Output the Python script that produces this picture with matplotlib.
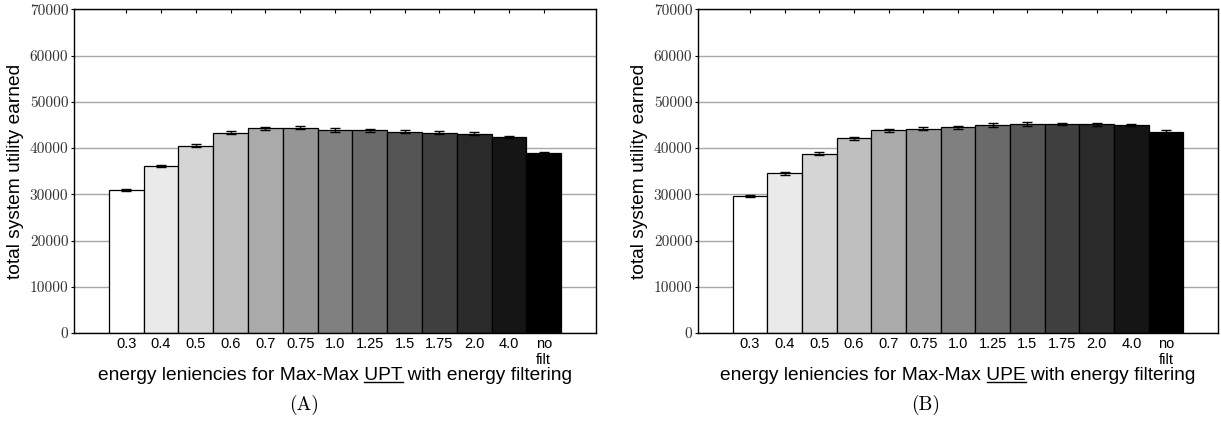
import matplotlib
matplotlib.use("Agg")
import matplotlib.pyplot as plt
from matplotlib.lines import Line2D
from matplotlib.transforms import IdentityTransform
import numpy as np

categories = ["0.3", "0.4", "0.5", "0.6", "0.7", "0.75", "1.0", "1.25", "1.5",
              "1.75", "2.0", "4.0", "no\nfilt"]
upt_values = [30900, 36100, 40500, 43300, 44300, 44400, 43900, 43800, 43500,
              43300, 43100, 42400, 38900]
upt_errors = [250, 300, 300, 350, 350, 350, 350, 300, 300, 300, 300, 250, 250]
upe_values = [29600, 34500, 38800, 42100, 43800, 44200, 44500, 45000, 45200,
              45200, 45100, 45000, 43400]
upe_errors = [250, 300, 350, 300, 300, 350, 350, 350, 350, 300, 300, 300, 450]
yticks = [0, 10000, 20000, 30000, 40000, 50000, 60000, 70000]
panel_labels = ["(A)", "(B)"]
label_prefix = "energy leniencies for Max-Max "
underlined = ["UPT", "UPE"]
label_suffix = " with energy filtering"

plt.rcParams['font.family'] = ['Liberation Sans', 'DejaVu Sans']

W, H = 1221, 428
fig = plt.figure(figsize=(W / 100, H / 100), dpi=100)

n = len(categories)
grays = [str(1 - i / (n - 1)) for i in range(n)]
x = np.arange(n)

axes_px = [(74, 596), (698, 1218)]
top_px, bot_px = 9.3, 333
caption_x = [304, 926]
LFS = 13.8

axes = []
for k, (vals, errs) in enumerate([(upt_values, upt_errors), (upe_values, upe_errors)]):
    l, r = axes_px[k]
    ax = fig.add_axes([l / W, 1 - bot_px / H, (r - l) / W, (bot_px - top_px) / H])
    ax.set_axisbelow(True)
    ax.yaxis.grid(True, color='#a8a8a8', lw=1.0)
    ax.bar(x, vals, width=1.0, color=grays, edgecolor='black', linewidth=0.9, zorder=2)
    ax.errorbar(x, vals, yerr=errs, fmt='none', ecolor='black', elinewidth=1.0,
                capsize=3.5, capthick=1.0, zorder=3)
    ax.set_xlim(-1.5, n + 0.5)
    ax.set_ylim(0, 70000)
    ax.set_yticks(yticks)
    ax.set_yticklabels([str(v) for v in yticks], fontfamily='cmr10', fontsize=11,
                       color='#333333')
    ax.set_xticks(x)
    ax.set_xticklabels(categories, fontsize=10.5, linespacing=1.2)
    ax.tick_params(axis='x', direction='in', length=3, top=True, bottom=True,
                   pad=3, width=0.8)
    ax.tick_params(axis='y', direction='out', length=2, pad=2, width=0.8,
                   right=False)
    for s in ax.spines.values():
        s.set_linewidth(1.0)
        s.set_color('black')
    ax.set_ylabel("total system utility earned", fontsize=LFS, labelpad=4)
    ax.set_xlabel(label_prefix + underlined[k] + label_suffix, fontsize=LFS, labelpad=0)
    fig.text(caption_x[k] / W, 1 - 405 / H, panel_labels[k], fontfamily='cmr10',
             fontsize=14, ha='center', va='center')
    axes.append(ax)

fig.canvas.draw()
renderer = fig.canvas.get_renderer()
for k, ax in enumerate(axes):
    lab = ax.xaxis.label
    bb = lab.get_window_extent(renderer)
    t1 = fig.text(0, 0, label_prefix + underlined[k], fontsize=LFS)
    t2 = fig.text(0, 0, underlined[k], fontsize=LFS)
    w1 = t1.get_window_extent(renderer).width
    w2 = t2.get_window_extent(renderer).width
    t1.remove()
    t2.remove()
    x1 = bb.x0 + w1
    x0 = x1 - w2
    yline = bb.y0 + 2.0
    fig.add_artist(Line2D([x0, x1], [yline, yline], transform=IdentityTransform(),
                          color='black', lw=1.0))

fig.savefig("out.png", dpi=100)
